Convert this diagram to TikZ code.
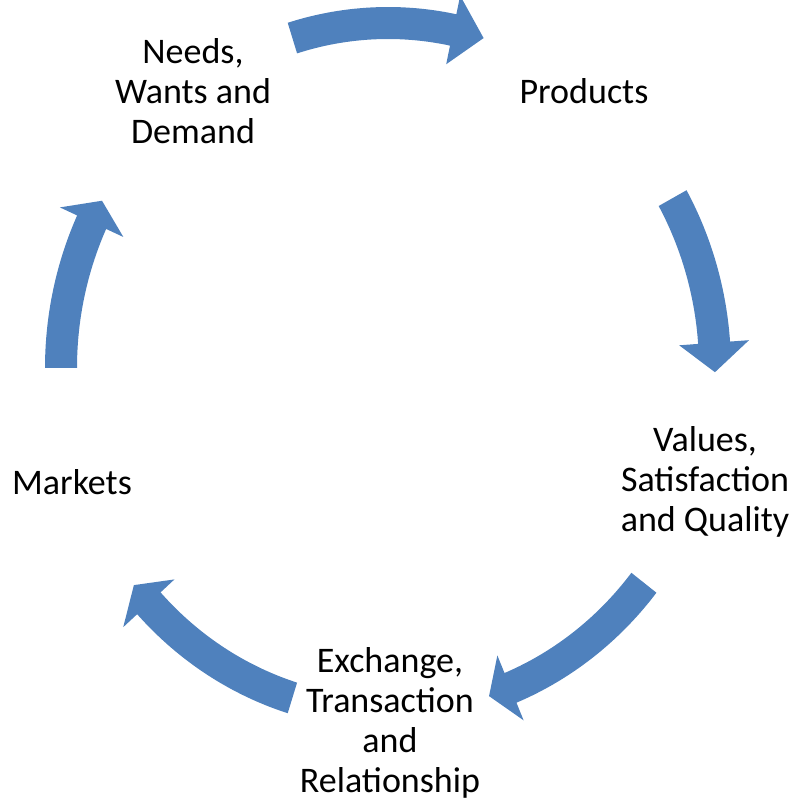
\documentclass[tikz,border=0pt]{standalone}
\usepackage{fontspec}
\setmainfont{Carlito}
\definecolor{arrowblue}{RGB}{79,129,189}
\def\cx{388}\def\cy{432}\def\ra{327}\def\rb{345}\def\hw{16}\def\hh{35}
\newcommand\cyclearrow[3]{%
 \fill[arrowblue] plot[domain=#1:#2,samples=40] ({\cx+(\ra+\hw)*cos(\x)},{\cy+(\rb+\hw)*sin(\x)})
 -- ({\cx+(\ra+\hh)*cos(#2)},{\cy+(\rb+\hh)*sin(#2)})
 -- ({\cx+\ra*cos(#3)},{\cy+\rb*sin(#3)})
 -- ({\cx+(\ra-\hh)*cos(#2)},{\cy+(\rb-\hh)*sin(#2)})
 -- plot[domain=#2:#1,samples=40] ({\cx+(\ra-\hw)*cos(\x)},{\cy+(\rb-\hw)*sin(\x)})
 -- cycle;}
\tikzset{lbl/.style={align=center,inner sep=0pt,font=\fontsize{18}{20}\selectfont}}
\begin{document}
\begin{tikzpicture}[x=0.5pt,y=0.5pt]
\useasboundingbox (0,0) rectangle (800,800);
\node[lbl] (needs) at (193,709) {Needs,\\Wants and\\Demand};
\node[lbl] (products) at (584,709) {Products};
\node[lbl] (values) at (705,318) {Values,\\Satisfaction\\and Quality};
\node[lbl] (exchange) at (390,77) {Exchange,\\Transaction\\and\\Relationship};
\node[lbl] (markets) at (72,318) {Markets};
\cyclearrow{107}{78.5}{73}
\cyclearrow{29.5}{4.2}{-0.7}
\cyclearrow{-38.5}{-68}{-72}
\cyclearrow{-107}{-137}{-141}
\cyclearrow{180}{155}{151}
\end{tikzpicture}
\end{document}
